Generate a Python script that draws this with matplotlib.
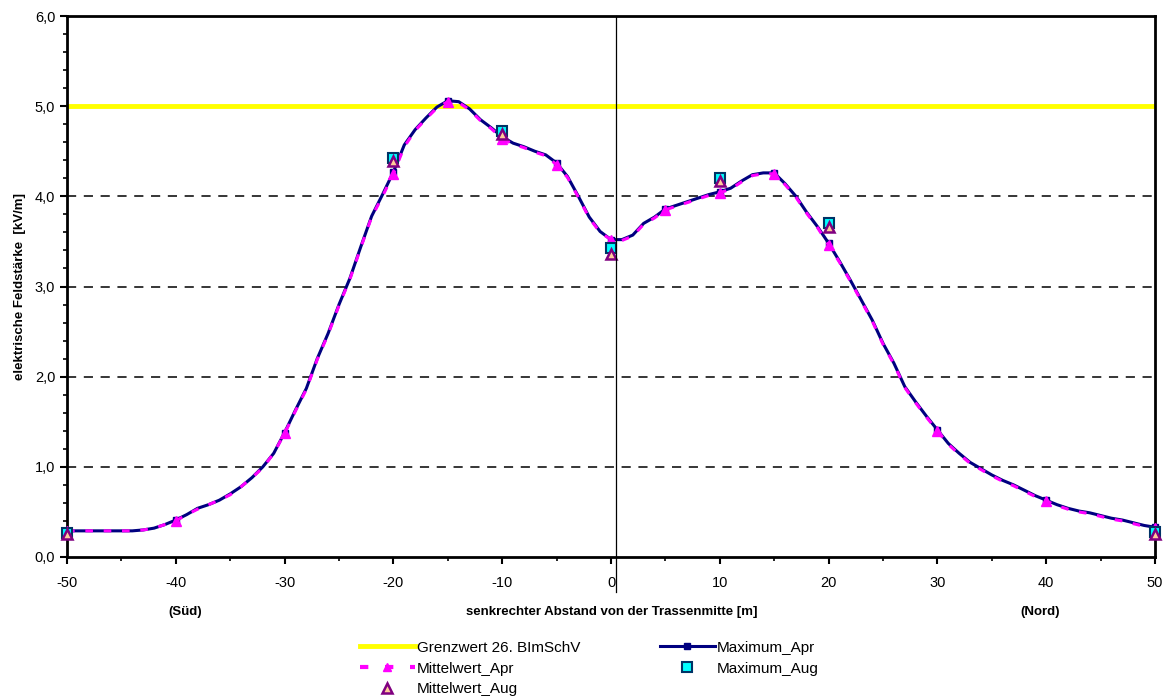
import numpy as np
import matplotlib
matplotlib.use("Agg")
import matplotlib.pyplot as plt
from matplotlib.ticker import MultipleLocator, FuncFormatter
from matplotlib.lines import Line2D

plt.rcParams['font.family'] = ['Liberation Sans', 'DejaVu Sans']
plt.rcParams['axes.unicode_minus'] = False

# Abstand in m (1 m Raster)
abstand = list(range(-50, 51))

max_apr = [0.29, 0.29, 0.29, 0.29, 0.29, 0.29, 0.29, 0.30, 0.32, 0.36,
           0.41, 0.47, 0.54, 0.58, 0.63, 0.70, 0.78, 0.88, 1.00, 1.15,
           1.38, 1.63, 1.87, 2.20, 2.48, 2.80, 3.09, 3.44, 3.78, 4.02,
           4.27, 4.57, 4.74, 4.87, 4.99, 5.06, 5.05, 4.97, 4.85, 4.76,
           4.66, 4.59, 4.55, 4.50, 4.46, 4.37, 4.22, 4.00, 3.77, 3.61,
           3.52, 3.52, 3.57, 3.70, 3.77, 3.86, 3.90, 3.94, 3.98, 4.02,
           4.05, 4.09, 4.17, 4.24, 4.26, 4.26, 4.14, 4.00, 3.82, 3.66,
           3.48, 3.28, 3.07, 2.85, 2.63, 2.37, 2.15, 1.89, 1.72, 1.56,
           1.41, 1.26, 1.15, 1.05, 0.98, 0.91, 0.85, 0.80, 0.74, 0.68,
           0.63, 0.58, 0.54, 0.51, 0.49, 0.46, 0.43, 0.41, 0.38, 0.35,
           0.33]

mittel_apr = [0.29, 0.29, 0.29, 0.29, 0.29, 0.29, 0.29, 0.30, 0.32, 0.36,
              0.40, 0.47, 0.53, 0.58, 0.63, 0.69, 0.78, 0.88, 0.99, 1.15,
              1.37, 1.62, 1.86, 2.19, 2.47, 2.79, 3.08, 3.43, 3.77, 4.00,
              4.25, 4.55, 4.73, 4.86, 4.98, 5.05, 5.04, 4.96, 4.84, 4.75,
              4.64, 4.58, 4.54, 4.49, 4.45, 4.35, 4.21, 3.99, 3.76, 3.60,
              3.52, 3.51, 3.56, 3.69, 3.76, 3.85, 3.89, 3.93, 3.97, 4.01,
              4.04, 4.08, 4.16, 4.23, 4.25, 4.25, 4.13, 3.99, 3.81, 3.65,
              3.46, 3.27, 3.06, 2.84, 2.62, 2.36, 2.14, 1.88, 1.71, 1.55,
              1.40, 1.25, 1.14, 1.04, 0.97, 0.90, 0.84, 0.79, 0.73, 0.67,
              0.62, 0.57, 0.53, 0.50, 0.48, 0.45, 0.42, 0.40, 0.37, 0.34,
              0.32]

# Messpunkte mit Markern
messpunkte = [-50, -40, -30, -20, -15, -10, -5, 0, 5, 10, 15, 20, 30, 40, 50]

abstand_aug = [-50, -20, -10, 0, 10, 20, 50]
max_aug = [0.27, 4.43, 4.72, 3.43, 4.20, 3.70, 0.28]
mittel_aug = [0.25, 4.39, 4.69, 3.36, 4.17, 3.66, 0.26]

grenzwert = 5.0

fig = plt.figure(figsize=(11.74, 6.99), dpi=100)
ax = fig.add_axes([67/1174, 1 - 557/699, (1155 - 67)/1174, (557 - 16)/699])

idx = [abstand.index(m) for m in messpunkte]

for g in [1, 2, 3, 4]:
    ax.axhline(g, color='black', lw=1.1, ls=(0, (6, 5)), zorder=1)

ax.axhline(grenzwert, color='#FFFF00', lw=3.5, zorder=2)

ax.plot(abstand, max_apr, color='#000080', lw=2.2, marker='s', markersize=4,
        markevery=idx, zorder=3, clip_on=False)
ax.plot(abstand, mittel_apr, color='#FF00FF', lw=2.2, ls=(0, (2.5, 3.5)),
        marker='^', markersize=6.5, markevery=idx, zorder=4, clip_on=False)
ax.plot(abstand_aug, max_aug, ls='none', marker='s', markersize=7.5,
        markerfacecolor='#00FFFF', markeredgecolor='#003366', markeredgewidth=1.5,
        zorder=5, clip_on=False)
ax.plot(abstand_aug, mittel_aug, ls='none', marker='^', markersize=7,
        markerfacecolor='#FFCC99', markeredgecolor='#800080', markeredgewidth=1.8,
        zorder=6, clip_on=False)

# Trassenmitte
ax.plot([0.5, 0.5], [1.0, -0.065], color='black', lw=0.9,
        transform=ax.get_xaxis_transform(), clip_on=False, zorder=7)

ax.set_xlim(-50, 50)
ax.set_ylim(0, 6)
ax.xaxis.set_major_locator(MultipleLocator(10))
ax.xaxis.set_minor_locator(MultipleLocator(5))
ax.yaxis.set_major_locator(MultipleLocator(1))
ax.yaxis.set_minor_locator(MultipleLocator(0.2))
ax.yaxis.set_major_formatter(FuncFormatter(lambda v, p: f"{v:.1f}".replace('.', ',')))

for s in ax.spines.values():
    s.set_linewidth(2)
ax.tick_params(which='major', length=5, width=1.5, labelsize=10.5, direction='out')
ax.tick_params(which='minor', length=3, width=1.2, direction='out')
ax.tick_params(axis='x', pad=9)

ax.set_ylabel('elektrische Feldstärke  [kV/m]', fontsize=9.5, fontweight='bold', labelpad=6)
fig.text(612/1174, 1 - 612/699, 'senkrechter Abstand von der Trassenmitte [m]',
         ha='center', va='center', fontsize=9.5, fontweight='bold')
fig.text(185/1174, 1 - 612/699, '(Süd)', ha='center', va='center',
         fontsize=9.5, fontweight='bold')
fig.text(1040/1174, 1 - 612/699, '(Nord)', ha='center', va='center',
         fontsize=9.5, fontweight='bold')

handles = [
    Line2D([], [], color='#FFFF00', lw=3.5),
    Line2D([], [], color='#FF00FF', lw=3, ls=(0, (2, 4)), marker='^', markersize=6),
    Line2D([], [], ls='none', marker='^', markersize=7, markerfacecolor='#FFCC99',
           markeredgecolor='#800080', markeredgewidth=1.8),
    Line2D([], [], color='#000080', lw=2.2, marker='s', markersize=4),
    Line2D([], [], ls='none', marker='s', markersize=7.5, markerfacecolor='#00FFFF',
           markeredgecolor='#003366', markeredgewidth=1.5),
]
labels = ['Grenzwert 26. BImSchV', 'Mittelwert_Apr', 'Mittelwert_Aug',
          'Maximum_Apr', 'Maximum_Aug']
fig.legend(handles, labels, loc='upper left', bbox_to_anchor=(352/1174, 1 - 633/699),
           ncol=2, frameon=False, fontsize=11, handlelength=3.6, handletextpad=0.15,
           columnspacing=5.2, labelspacing=0.45, borderpad=0)

fig.savefig('out.png', dpi=100)
